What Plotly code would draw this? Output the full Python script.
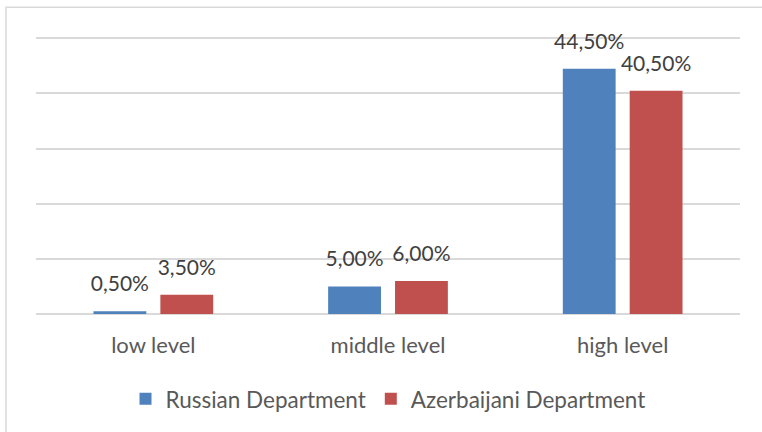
import plotly.graph_objects as go

categories = ["low level", "middle level", "high level"]
russian = [0.5, 5.0, 44.5]
azerbaijani = [3.5, 6.0, 40.5]
series_names = ["Russian Department", "Azerbaijani Department"]
colors = ["#4F81BD", "#C0504D"]

font_family = "Lato, Open Sans, sans-serif"

fig = go.Figure()
for i, (name, vals, col) in enumerate(zip(series_names, [russian, azerbaijani], colors)):
    fig.add_trace(go.Bar(
        x=categories, y=vals, name=name, offsetgroup=str(i),
        marker=dict(color=col, line=dict(width=0)),
    ))
for i, vals in enumerate([russian, azerbaijani]):
    fig.add_trace(go.Scatter(
        x=categories, y=vals, mode="markers+text", offsetgroup=str(i),
        marker=dict(size=22, opacity=0), showlegend=False, hoverinfo="skip",
        texttemplate="%{y:.2f}%", textposition="top center",
        textfont=dict(size=21, color="#404040", family=font_family),
        cliponaxis=False,
    ))

H_PLOT = 276 * 50.6 / 50
T = 314 - H_PLOT

# outer chart border (left and top visible)
fig.add_shape(type="rect", xref="paper", yref="paper",
              x0=(6 - 36) / 704, x1=1.06, y0=-0.45, y1=(314 - 7) / H_PLOT,
              line=dict(color="#D9D9D9", width=1.5), layer="below")

fig.update_layout(
    width=762, height=432,
    margin=dict(l=36, r=22, t=T, b=118, autoexpand=False),
    paper_bgcolor="white", plot_bgcolor="white",
    separators=", ",
    barmode="group", bargap=0.43, bargroupgap=0.21,
    scattermode="group", scattergap=0.43,
    font=dict(family=font_family, color="#595959", size=22),
    legend=dict(orientation="h", x=0.5, xanchor="center", y=-0.228, yanchor="top",
                font=dict(size=22.5, color="#595959"), itemwidth=30,
                traceorder="normal"),
    xaxis=dict(showline=False, ticks="outside", ticklen=12, tickcolor="rgba(0,0,0,0)",
               tickfont=dict(size=22, color="#595959"), automargin=False),
    yaxis=dict(range=[0, 50.6], tickvals=[0, 10, 20, 30, 40, 50], showticklabels=False,
               gridcolor="#D9D9D9", gridwidth=1.5, zeroline=True, zerolinecolor="#D9D9D9",
               zerolinewidth=1.5, showline=False, ticks="", automargin=False),
    showlegend=True,
)

fig.write_html("out.html", config={"displayModeBar": False},
               post_script="document.body.style.margin='0';document.body.style.overflow='hidden';")
